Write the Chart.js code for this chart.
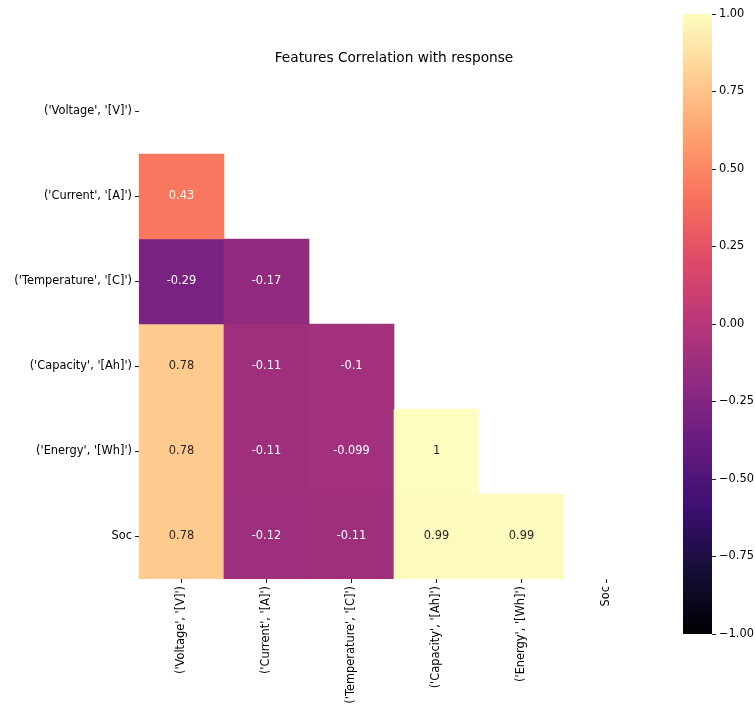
<!DOCTYPE html>
<html>
<head>
<meta charset="utf-8">
<script src="https://cdn.jsdelivr.net/npm/chart.js@4/dist/chart.umd.min.js"></script>
<style>
  html, body { margin: 0; padding: 0; background: #fff; }
  body { width: 755px; height: 709px; position: relative; overflow: hidden; }
  #heat { position: absolute; left: 0; top: 0; }
  #cbar { position: absolute; left: 660px; top: 0; }
</style>
</head>
<body>
<canvas id="heat" width="660" height="709"></canvas>
<canvas id="cbar" width="95" height="709"></canvas>
<script>
// Feature names (rows top to bottom, columns left to right)
const featureLabels = [
  "('Voltage', '[V]')",
  "('Current', '[A]')",
  "('Temperature', '[C]')",
  "('Capacity', '[Ah]')",
  "('Energy', '[Wh]')",
  "Soc"
];

// Lower-triangle correlation coefficients, one array per row
const voltageRow     = [];
const currentRow     = [0.43];
const temperatureRow = [-0.29, -0.17];
const capacityRow    = [0.78, -0.11, -0.1];
const energyRow      = [0.78, -0.11, -0.099, 1];
const socRow         = [0.78, -0.12, -0.11, 0.99, 0.99];
const corrRows = [voltageRow, currentRow, temperatureRow, capacityRow, energyRow, socRow];

const chartTitle = 'Features Correlation with response';

// Colour bar range and ticks
const colorMin = -1;
const colorMax = 1;
const colorTicks = [-1, -0.75, -0.5, -0.25, 0, 0.25, 0.5, 0.75, 1];

// Magma colormap control points
const magma = ['#000004', '#140e36', '#3b0f70', '#641a80', '#8c2981', '#b73779',
               '#de4968', '#f7705c', '#fe9f6d', '#fecf92', '#fcfdbf'];

function hexRgb(h) {
  return [parseInt(h.slice(1, 3), 16), parseInt(h.slice(3, 5), 16), parseInt(h.slice(5, 7), 16)];
}
function magmaRgb(t) {
  t = Math.min(1, Math.max(0, t));
  const p = t * (magma.length - 1);
  const i = Math.min(magma.length - 2, Math.floor(p));
  const f = p - i;
  const a = hexRgb(magma[i]), b = hexRgb(magma[i + 1]);
  return a.map((c, k) => Math.round(c + (b[k] - c) * f));
}
function valueColor(v) {
  const c = magmaRgb((v - colorMin) / (colorMax - colorMin));
  return `rgb(${c[0]},${c[1]},${c[2]})`;
}
function luminance(v) {
  const c = magmaRgb((v - colorMin) / (colorMax - colorMin)).map(x => {
    x /= 255;
    return x <= 0.03928 ? x / 12.92 : Math.pow((x + 0.055) / 1.055, 2.4);
  });
  return 0.2126 * c[0] + 0.7152 * c[1] + 0.0722 * c[2];
}
function fmt2g(v) {
  return String(Number(v.toPrecision(2)));
}

const FONT = "'DejaVu Sans', sans-serif";
const TICK_SIZE = 11.4;
const TITLE_SIZE = 13.7;
const INK = '#222';

// One floating-bar dataset per row; each cell spans [row-0.5, row+0.5]
const datasets = corrRows.map((row, r) => ({
  data: featureLabels.map((_, c) => c < row.length ? [r - 0.5, r + 0.5] : null),
  corr: featureLabels.map((_, c) => c < row.length ? row[c] : null),
  backgroundColor: featureLabels.map((_, c) => c < row.length ? valueColor(row[c]) : 'rgba(0,0,0,0)'),
  borderWidth: 0,
  grouped: false,
  barPercentage: 1,
  categoryPercentage: 1
}));

// Value annotations inside each cell
const cellLabels = {
  id: 'cellLabels',
  afterDatasetsDraw(chart) {
    const ctx = chart.ctx;
    ctx.save();
    ctx.font = `${TICK_SIZE}px ${FONT}`;
    ctx.textAlign = 'center';
    ctx.textBaseline = 'middle';
    chart.data.datasets.forEach((ds, di) => {
      chart.getDatasetMeta(di).data.forEach((bar, i) => {
        const v = ds.corr[i];
        if (v === null || v === undefined) return;
        ctx.fillStyle = luminance(v) > 0.408 ? '#262626' : '#ffffff';
        ctx.fillText(fmt2g(v), bar.x, (bar.y + bar.base) / 2);
      });
    });
    ctx.restore();
  }
};

// Title centred over the plotting area
const areaTitle = {
  id: 'areaTitle',
  afterDraw(chart) {
    const { ctx, chartArea } = chart;
    ctx.save();
    ctx.font = `${TITLE_SIZE}px ${FONT}`;
    ctx.fillStyle = '#000';
    ctx.textAlign = 'center';
    ctx.textBaseline = 'middle';
    ctx.fillText(chartTitle, (chartArea.left + chartArea.right) / 2, chartArea.top - 11);
    ctx.restore();
  }
};

new Chart(document.getElementById('heat'), {
  type: 'bar',
  data: { labels: featureLabels, datasets },
  options: {
    responsive: false,
    animation: false,
    layout: { padding: { left: 0, right: 11, top: 69, bottom: 0 } },
    plugins: {
      legend: { display: false },
      tooltip: { enabled: false },
      title: { display: false }
    },
    scales: {
      x: {
        type: 'category',
        offset: true,
        border: { display: false },
        grid: { display: true, drawOnChartArea: false, offset: false, tickLength: 4, tickColor: INK, color: INK },
        ticks: { color: '#000', font: { family: FONT, size: TICK_SIZE }, minRotation: 90, maxRotation: 90, autoSkip: false, padding: 3 },
        afterFit(scale) { scale.height = 130; }
      },
      y: {
        type: 'linear',
        min: -0.5,
        max: 5.5,
        reverse: true,
        border: { display: false },
        grid: { display: true, drawOnChartArea: false, tickLength: 4, tickColor: INK, color: INK },
        afterBuildTicks(scale) { scale.ticks = featureLabels.map((_, i) => ({ value: i })); },
        ticks: {
          color: '#000',
          font: { family: FONT, size: TICK_SIZE },
          padding: 3,
          autoSkip: false,
          callback: (v) => featureLabels[v]
        },
        afterFit(scale) { scale.width = 139; }
      }
    }
  },
  plugins: [cellLabels, areaTitle]
});

// Colour bar: a single floating bar filled with the colormap gradient
new Chart(document.getElementById('cbar'), {
  type: 'bar',
  data: {
    labels: [''],
    datasets: [{
      data: [[colorMin, colorMax]],
      borderWidth: 0,
      barPercentage: 1,
      categoryPercentage: 1,
      backgroundColor(ctx) {
        const area = ctx.chart.chartArea;
        if (!area) return null;
        const g = ctx.chart.ctx.createLinearGradient(0, area.bottom, 0, area.top);
        magma.forEach((c, i) => g.addColorStop(i / (magma.length - 1), c));
        return g;
      }
    }]
  },
  options: {
    responsive: false,
    animation: false,
    layout: { padding: { left: 23, right: 0, top: 14, bottom: 75 } },
    plugins: { legend: { display: false }, tooltip: { enabled: false } },
    scales: {
      x: { display: false },
      y: {
        position: 'right',
        min: colorMin,
        max: colorMax,
        border: { display: false },
        grid: { display: true, drawOnChartArea: false, tickLength: 4, tickColor: INK, color: INK },
        afterBuildTicks(scale) { scale.ticks = colorTicks.map(v => ({ value: v })); },
        ticks: {
          color: '#000',
          font: { family: FONT, size: TICK_SIZE },
          padding: 3,
          callback: (v) => (v < 0 ? '\u2212' : '') + Math.abs(v).toFixed(2)
        },
        afterFit(scale) { scale.width = 43; }
      }
    }
  }
});
</script>
</body>
</html>
